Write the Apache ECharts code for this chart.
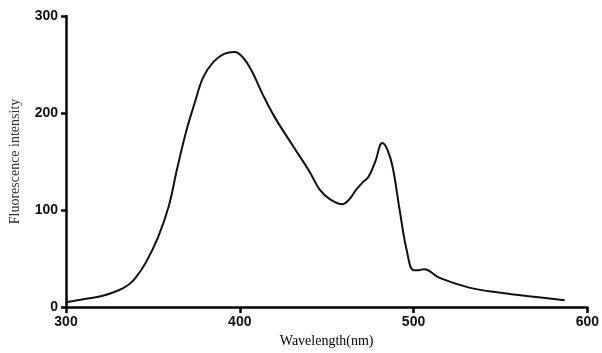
<!DOCTYPE html>
<html>
<head>
<meta charset="utf-8">
<script src="https://cdn.jsdelivr.net/npm/echarts@6/dist/echarts.min.js"></script>
<style>
  html, body { margin: 0; padding: 0; background: #fff; }
  #chart { width: 602px; height: 353px; }
</style>
</head>
<body>
<div id="chart"></div>
<script>
// wavelength (nm) and fluorescence intensity
var wavelength = [300, 310, 320, 330, 336, 340, 346, 353, 359, 364, 369, 374, 379, 385, 391, 397, 402, 407, 413, 420, 431, 440, 446, 452, 459, 463, 467, 471, 474, 478, 482, 485, 488, 492, 496, 500, 503, 506, 515, 532, 549, 572, 587];
var intensity = [5, 8, 11, 17, 23, 30, 46, 72, 103, 143, 180, 210, 237, 253, 261, 263, 257, 243, 220, 196, 165, 140, 121, 111, 106, 111, 121, 129, 134, 150, 169, 162, 144, 100, 59, 38, 38, 39, 30, 20, 15, 10, 7];
var xTicks = [300, 400, 500, 600];
var yTicks = [0, 100, 200, 300];

var points = wavelength.map(function (w, i) { return [w, intensity[i]]; });

var chart = echarts.init(document.getElementById('chart'));
var tickFont = { fontFamily: 'Liberation Sans', fontWeight: 'bold', fontSize: 14, color: '#111' };

chart.setOption({
  animation: false,
  grid: { left: 64, right: 13, top: 16, bottom: 46, containLabel: false },
  xAxis: {
    type: 'value',
    min: xTicks[0],
    max: xTicks[xTicks.length - 1],
    interval: 100,
    name: 'Wavelength(nm)',
    nameLocation: 'middle',
    nameGap: 27,
    nameTextStyle: { fontFamily: 'Liberation Serif', fontSize: 14, color: '#000' },
    axisLine: { lineStyle: { color: '#000', width: 2.5 } },
    axisTick: { length: 6, lineStyle: { color: '#000', width: 2.5 } },
    axisLabel: Object.assign({ margin: 8 }, tickFont),
    splitLine: { show: false }
  },
  yAxis: {
    type: 'value',
    min: yTicks[0],
    max: yTicks[yTicks.length - 1],
    interval: 100,
    name: 'Fluorescence intensity',
    nameLocation: 'middle',
    nameGap: 44,
    nameTextStyle: { fontFamily: 'Liberation Serif', fontSize: 14, color: '#333' },
    axisLine: { show: true, lineStyle: { color: '#000', width: 2.5 } },
    axisTick: { show: true, length: 5, lineStyle: { color: '#000', width: 2.5 } },
    axisLabel: Object.assign({ margin: 8 }, tickFont),
    splitLine: { show: false }
  },
  series: [{
    type: 'line',
    data: points,
    smooth: 0.4,
    showSymbol: false,
    lineStyle: { color: '#111', width: 2 }
  }]
});
</script>
</body>
</html>
